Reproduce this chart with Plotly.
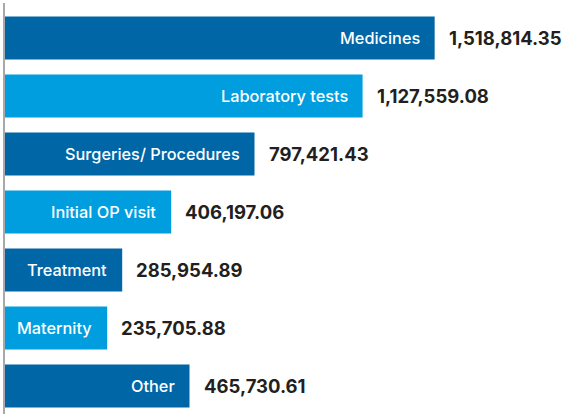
import plotly.graph_objects as go

# Data
categories = ["Medicines", "Laboratory tests", "Surgeries/ Procedures", "Initial OP visit",
              "Treatment", "Maternity", "Other"]
values = [1518814.35, 1127559.08, 797421.43, 406197.06, 285954.89, 235705.88, 465730.61]
# The reference draws the bars at stylised (not-to-scale) lengths
bar_display_length = [1518814, 1264000, 882000, 587500, 414300, 361300, 652200]
bar_colors = ["#0066a6", "#009ede", "#0066a6", "#009ede", "#0066a6", "#009ede", "#0066a6"]

FONT = "Inter"
positions = list(range(len(categories)))

fig = go.Figure()
fig.add_trace(go.Bar(
    y=positions, x=bar_display_length, orientation="h",
    marker=dict(color=bar_colors, line=dict(width=0)),
    width=0.74, hoverinfo="skip", showlegend=False,
))

for p, cat, val, ln in zip(positions, categories, values, bar_display_length):
    fig.add_annotation(x=ln, y=p, text=cat, showarrow=False, xanchor="right",
                       xshift=-13, font=dict(family=FONT, size=16.3, color="white", weight=500))
    fig.add_annotation(x=ln, y=p, text=f"{val:,.2f}", showarrow=False, xanchor="left",
                       xshift=12, font=dict(family=FONT, size=18.5, color="#231f20", weight=700))

fig.update_layout(
    width=564, height=414,
    margin=dict(l=5, r=0, t=3, b=0, autoexpand=False),
    plot_bgcolor="white", paper_bgcolor="white",
    bargap=0.26,
)
fig.update_xaxes(range=[0, 1976000], visible=False, showgrid=False, zeroline=False,
                 automargin=False)
fig.update_yaxes(range=[6.483, -0.603], showticklabels=False, showgrid=False, zeroline=False,
                 showline=True, linecolor="#a7a9ac", linewidth=2, ticks="", automargin=False)

fig.write_html("out.html", config={"displayModeBar": False, "staticPlot": True},
               post_script="document.body.style.margin='0';document.body.style.overflow='hidden';")
